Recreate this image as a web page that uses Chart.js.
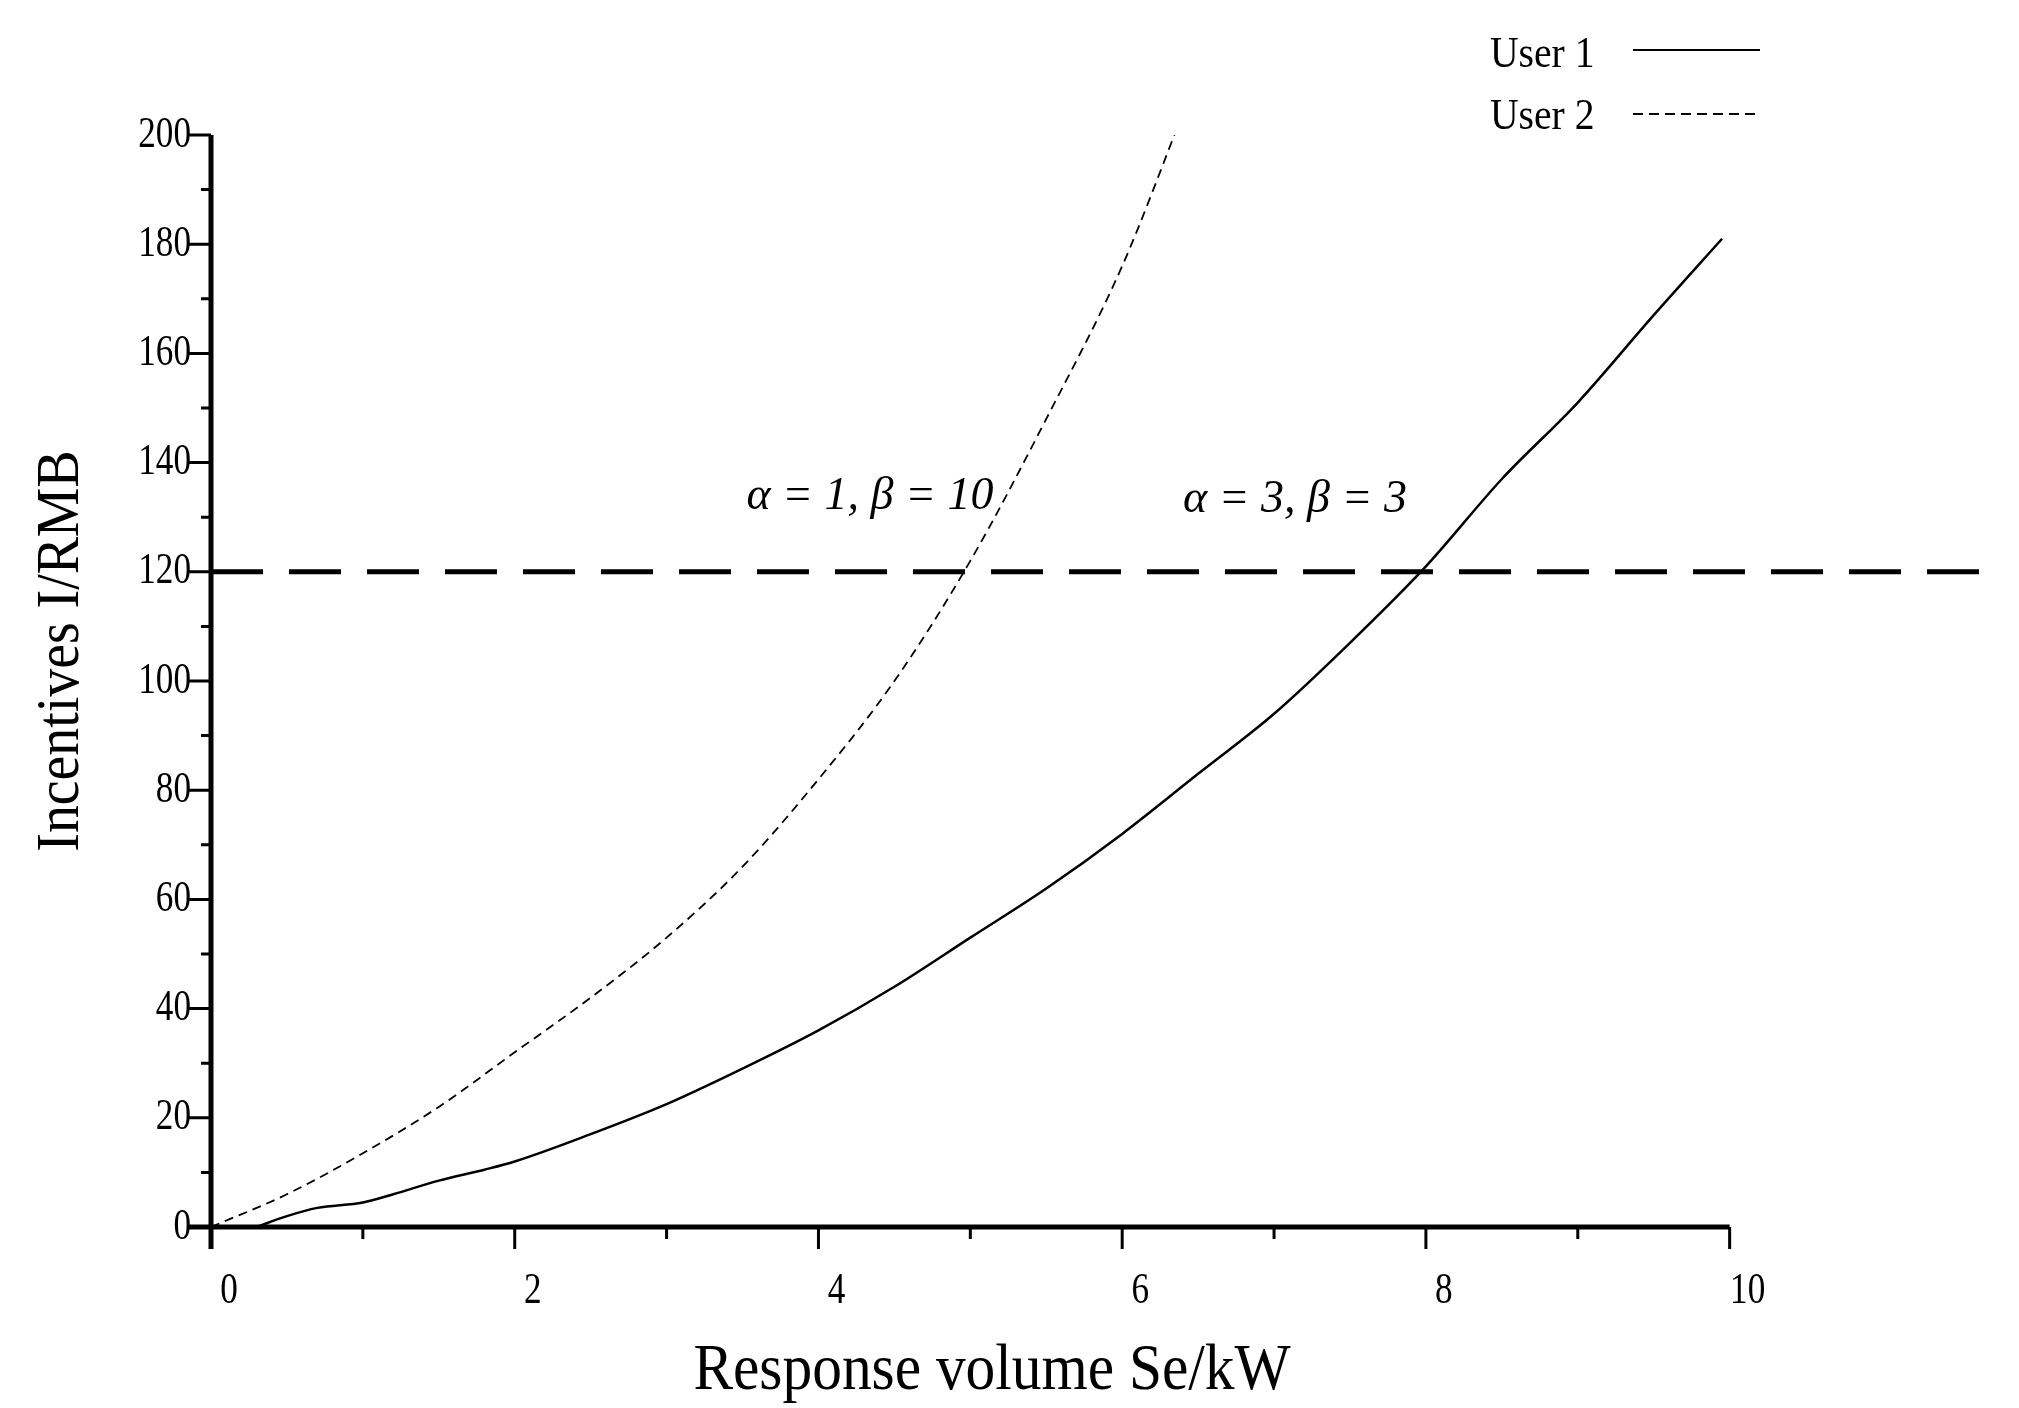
<!DOCTYPE html>
<html>
<head>
<meta charset="utf-8">
<script src="https://cdn.jsdelivr.net/npm/chart.js@4/dist/chart.umd.min.js"></script>
<style>
  body { margin: 0; background: #fff; }
  #wrap { width: 2019px; height: 1408px; }
</style>
</head>
<body>
<div id="wrap"><canvas id="incentiveChart"></canvas></div>
<script>
// User 1 (alpha=3, beta=3) and User 2 (alpha=1, beta=10)
const user1X = [0.3, 0.5, 0.7, 1, 1.2, 1.5, 1.8, 2, 2.5, 3, 3.5, 4, 4.5, 5, 5.5, 6, 6.5, 7, 7.5, 8, 8.5, 9, 9.5, 9.95];
const user1Y = [0, 2, 3.5, 4.5, 6, 8.5, 10.5, 12, 17, 22.5, 29, 36, 44, 53, 62, 72, 83, 94, 107, 121, 137, 151, 167, 181];
const user2X = [0, 0.5, 1, 1.5, 2, 2.5, 3, 3.5, 4, 4.5, 5, 5.5, 6, 6.4];
const user2Y = [0, 6, 13.5, 22, 32, 42, 53, 66, 82, 100, 122, 148, 176, 204];
const thresholdY = 120;
const xTicks = [0, 2, 4, 6, 8, 10];
const yTicks = [0, 20, 40, 60, 80, 100, 120, 140, 160, 180, 200];

const serif = '"Liberation Serif", "DejaVu Serif", serif';

// draw condensed text like the original figure
function tallText(ctx, text, x, y, sx) {
  ctx.save();
  ctx.translate(x, y);
  ctx.scale(sx, 1);
  ctx.fillText(text, 0, 0);
  ctx.restore();
}

const axesPlugin = {
  id: "axesPlugin",
  afterDraw(chart) {
    const ctx = chart.ctx;
    const xs = chart.scales.x, ys = chart.scales.y;
    const x0 = xs.getPixelForValue(0), x10 = xs.getPixelForValue(10);
    const y0 = ys.getPixelForValue(0), y200 = ys.getPixelForValue(200);
    ctx.save();
    ctx.strokeStyle = "#000";
    ctx.fillStyle = "#000";
    ctx.lineWidth = 5;
    ctx.beginPath();
    ctx.moveTo(x0 - 22, y0); ctx.lineTo(x10, y0);
    ctx.moveTo(x0, y0 + 22); ctx.lineTo(x0, y200);
    ctx.stroke();
    ctx.lineWidth = 3;
    ctx.beginPath();
    for (let v = 0; v <= 10; v++) {
      const p = xs.getPixelForValue(v);
      ctx.moveTo(p, y0); ctx.lineTo(p, y0 + (v % 2 === 0 ? 22 : 12));
    }
    for (let v = 0; v <= 200; v += 10) {
      const p = ys.getPixelForValue(v);
      ctx.moveTo(x0, p); ctx.lineTo(x0 - (v % 20 === 0 ? 22 : 10), p);
    }
    ctx.stroke();
    ctx.font = "44px " + serif;
    ctx.textAlign = "center"; ctx.textBaseline = "middle";
    xTicks.forEach(v => tallText(ctx, String(v), xs.getPixelForValue(v) + 18, y0 + 64, 0.8));
    ctx.textAlign = "right";
    yTicks.forEach(v => tallText(ctx, String(v), x0 - 20, ys.getPixelForValue(v), 0.8));
    // axis titles
    ctx.font = "66px " + serif;
    ctx.textAlign = "center";
    tallText(ctx, "Response volume Se/kW", 992, y0 + 145, 0.9);
    ctx.save();
    ctx.translate(62, ys.getPixelForValue(100) - 30);
    ctx.rotate(-Math.PI / 2);
    ctx.font = "62px " + serif;
    tallText(ctx, "Incentives I/RMB", 0, 0, 0.9);
    ctx.restore();
    // parameter annotations
    ctx.font = "italic 46px " + serif;
    ctx.textAlign = "center";
    ctx.fillText("α = 1, β = 10", 870, 497);
    ctx.fillText("α = 3, β = 3", 1295, 500);
    // legend
    ctx.font = "44px " + serif;
    ctx.textAlign = "left";
    tallText(ctx, "User 1", 1490, 55, 0.9);
    tallText(ctx, "User 2", 1490, 117, 0.9);
    ctx.lineWidth = 2;
    ctx.beginPath();
    ctx.moveTo(1633, 50); ctx.lineTo(1760, 50);
    ctx.stroke();
    ctx.setLineDash([10, 6]);
    ctx.beginPath();
    ctx.moveTo(1633, 114); ctx.lineTo(1760, 114);
    ctx.stroke();
    ctx.restore();
  }
};

new Chart(document.getElementById("incentiveChart").getContext("2d"), {
  type: "scatter",
  data: {
    datasets: [
      {
        label: "User 1",
        data: user1X.map((x, i) => ({ x: x, y: user1Y[i] })),
        showLine: true, borderColor: "#000", borderWidth: 2.5,
        pointRadius: 0, cubicInterpolationMode: "monotone",
      },
      {
        label: "User 2",
        data: user2X.map((x, i) => ({ x: x, y: user2Y[i] })),
        showLine: true, borderColor: "#000", borderWidth: 1.8, borderDash: [9, 6],
        pointRadius: 0, cubicInterpolationMode: "monotone",
      },
      {
        label: "Threshold",
        data: [{ x: 0, y: thresholdY }, { x: 11.8, y: thresholdY }],
        showLine: true, borderColor: "#000", borderWidth: 5, borderDash: [52, 26],
        pointRadius: 0,
      },
    ],
  },
  options: {
    responsive: true, maintainAspectRatio: false, animation: false,
    layout: { padding: { left: 211, right: 16, top: 135, bottom: 181 } },
    plugins: { legend: { display: false }, tooltip: { enabled: false } },
    scales: {
      x: { type: "linear", min: 0, max: 11.8, display: false },
      y: { type: "linear", min: 0, max: 200, display: false },
    },
  },
  plugins: [axesPlugin],
});
</script>
</body>
</html>
